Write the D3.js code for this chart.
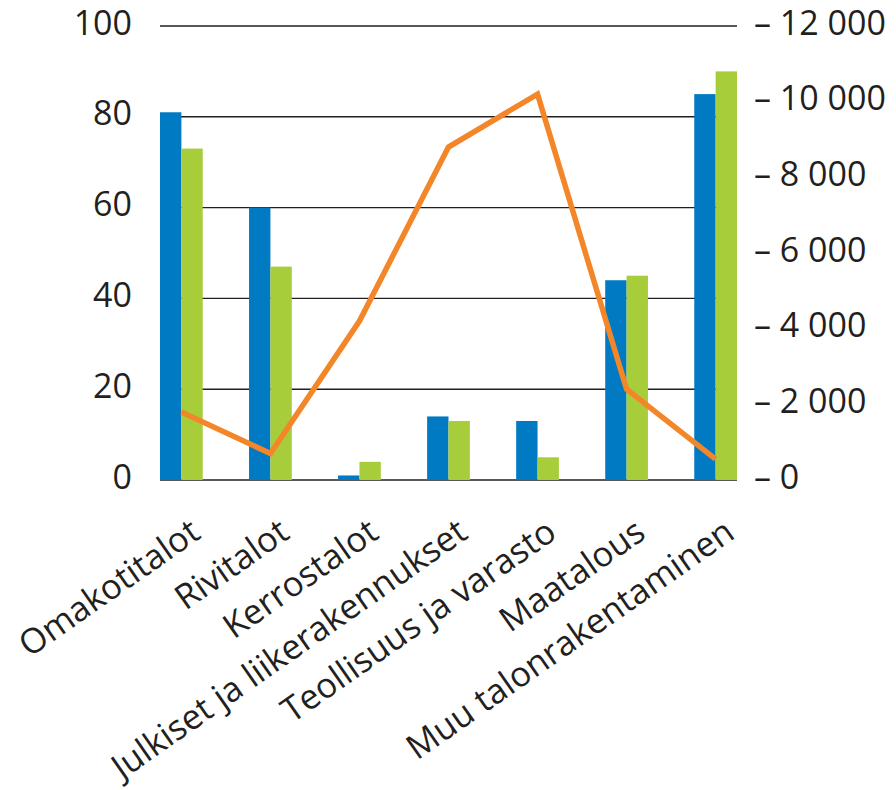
<!DOCTYPE html>
<html><head><meta charset="utf-8">
<script src="https://cdn.jsdelivr.net/npm/d3@7"></script>
<style>body{margin:0;background:#fff}svg{display:block}text{font-family:"Open Sans",sans-serif;fill:#231f20}</style>
</head><body><svg id="c" width="896" height="790"></svg>
<script>
const categories = ["Omakotitalot","Rivitalot","Kerrostalot","Julkiset ja liikerakennukset","Teollisuus ja varasto","Maatalous","Muu talonrakentaminen"];
const seriesBlue = [81, 60, 1, 14, 13, 44, 85];
const seriesGreen = [73, 47, 4, 13, 5, 45, 90];
const seriesLine = [1800, 700, 4200, 8800, 10200, 2400, 550];
const leftTicks = [0, 20, 40, 60, 80, 100];
const rightTicks = [0, 2000, 4000, 6000, 8000, 10000, 12000];

const svg = d3.select("#c");
const x = d3.scaleBand().domain(categories).range([160, 737]).paddingInner(0.52).paddingOuter(0);
const y = d3.scaleLinear().domain([0, 100]).range([480, 26]);
const y2 = d3.scaleLinear().domain([0, 12000]).range([480, 26]);
const fs = 34;

// gridlines
svg.append("g").selectAll("line").data(leftTicks).join("line")
  .attr("x1", 160).attr("x2", 737)
  .attr("y1", d => y(d)).attr("y2", d => y(d))
  .attr("stroke", "#231f20").attr("stroke-width", 1.4);

// left axis labels
svg.append("g").selectAll("text").data(leftTicks).join("text")
  .attr("x", 132).attr("y", d => y(d)).attr("dy", "0.25em")
  .attr("text-anchor", "end").attr("font-size", fs).text(d => d);

// right axis labels
svg.append("g").selectAll("text").data(rightTicks).join("text")
  .attr("x", 754).attr("y", d => y2(d)).attr("dy", "0.25em")
  .attr("text-anchor", "start").attr("font-size", fs)
  .text(d => "\u2013 " + d3.format(",")(d).replace(/,/g, " "));

const bw = x.bandwidth() / 2;
const g = svg.append("g");
g.selectAll("rect.b").data(categories).join("rect").attr("class","b")
  .attr("x", d => x(d)).attr("width", bw)
  .attr("y", (d,i) => y(seriesBlue[i])).attr("height", (d,i) => y(0) - y(seriesBlue[i]))
  .attr("fill", "#007ac2");
g.selectAll("rect.g").data(categories).join("rect").attr("class","g")
  .attr("x", d => x(d) + bw).attr("width", bw)
  .attr("y", (d,i) => y(seriesGreen[i])).attr("height", (d,i) => y(0) - y(seriesGreen[i]))
  .attr("fill", "#a8cd3b");

const line = d3.line().x((d,i) => x(categories[i]) + bw).y(d => y2(d));
svg.append("path").datum(seriesLine).attr("d", line)
  .attr("fill", "none").attr("stroke", "#f4862a").attr("stroke-width", 5.5);

// category labels
svg.append("g").selectAll("text").data(categories).join("text")
  .attr("transform", d => `translate(${x(d) + bw + 21},${537}) rotate(-35)`)
  .attr("text-anchor", "end").attr("font-size", 34.5).text(d => d);
</script></body></html>
